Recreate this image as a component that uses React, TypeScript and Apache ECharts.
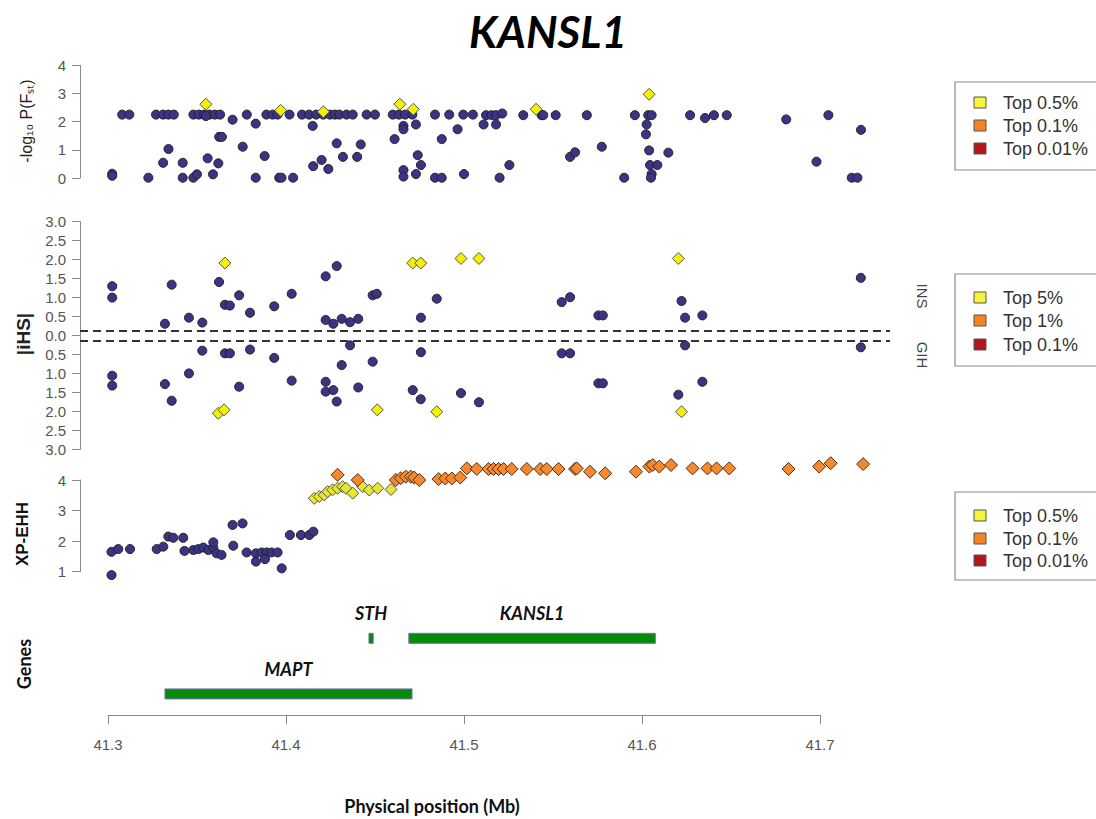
import React, { useEffect, useRef } from "react";
import * as echarts from "echarts";

// ---------- DATA ----------
// -log10 P(Fst): [position (Mb), value]
const fstOther: number[][] = [
  [41.3024,0.15],[41.3024,0.08],[41.308,2.25],[41.312,2.25],[41.3227,0.01],[41.327,2.25],[41.331,2.25],[41.334,2.25],[41.337,2.25],[41.334,1.03],[41.331,0.54],[41.342,0.54],[41.342,0.01],[41.348,2.25],[41.351,2.25],[41.354,2.25],[41.357,2.25],[41.360,2.25],[41.363,2.25],[41.355,2.2],[41.348,0.01],[41.350,0.13],[41.356,0.70],[41.359,0.13],[41.362,0.52],[41.3625,1.46],[41.364,1.46],[41.370,2.07],[41.3757,1.11],[41.378,2.25],[41.383,1.93],[41.383,0.01],[41.388,0.78],[41.389,2.25],[41.3925,2.25],[41.3953,2.25],[41.3962,0.01],[41.3975,0.01],[41.402,2.25],[41.404,0.01],[41.409,2.25],[41.413,2.25],[41.415,1.85],[41.4153,0.42],[41.420,0.64],[41.4238,0.32],[41.417,2.25],[41.421,2.25],[41.4247,2.25],[41.4275,2.25],[41.430,2.25],[41.434,2.25],[41.4375,2.25],[41.4285,1.23],[41.432,0.75],[41.440,0.75],[41.442,1.19],[41.4453,2.25],[41.450,2.25],[41.460,2.25],[41.4635,2.25],[41.467,2.25],[41.471,2.25],[41.461,1.38],[41.466,1.85],[41.466,1.73],[41.473,1.90],[41.474,0.81],[41.4758,0.46],[41.466,0.28],[41.466,0.05],[41.473,0.14],[41.4837,2.25],[41.4875,1.38],[41.4837,0.01],[41.4875,0.01],[41.4917,2.25],[41.4964,1.73],[41.500,0.14],[41.4996,2.25],[41.505,2.25],[41.5124,2.23],[41.5155,2.23],[41.518,2.23],[41.5215,2.29],[41.511,1.90],[41.518,1.90],[41.5333,2.23],[41.5436,2.23],[41.5445,2.23],[41.5515,2.23],[41.569,2.23],[41.596,2.23],[41.6035,2.23],[41.6054,2.23],[41.6026,1.90],[41.6022,1.55],[41.604,0.98],[41.6148,0.90],[41.6045,0.46],[41.6086,0.46],[41.6054,0.14],[41.605,0.01],[41.520,0.01],[41.5255,0.46],[41.5596,0.75],[41.5624,0.91],[41.5774,1.11],[41.590,0.01],[41.627,2.23],[41.6354,2.13],[41.6404,2.23],[41.6476,2.23],[41.681,2.08],[41.698,0.58],[41.7047,2.23],[41.723,1.71],[41.7178,0.01],[41.721,0.01]
];
const fstTop05: number[][] = [
  [41.355,2.62],[41.397,2.4],[41.421,2.35],[41.464,2.62],[41.4715,2.44],[41.5405,2.44],[41.604,2.97]
];

// |iHS| for INS (upper) and GIH (lower)
const insOther: number[][] = [
  [41.3024,1.30],[41.3024,1.00],[41.332,0.31],[41.3358,1.34],[41.3455,0.47],[41.353,0.34],[41.3624,1.41],[41.3657,0.81],[41.3685,0.79],[41.3737,1.06],[41.3798,0.60],[41.3934,0.77],[41.4032,1.10],[41.4223,1.56],[41.4285,1.83],[41.4223,0.41],[41.4266,0.31],[41.4313,0.44],[41.436,0.35],[41.4406,0.44],[41.4487,1.06],[41.451,1.10],[41.4758,0.47],[41.4847,0.97],[41.5549,0.88],[41.5596,1.01],[41.5755,0.53],[41.578,0.53],[41.6222,0.91],[41.6242,0.47],[41.6339,0.53],[41.7229,1.52]
];
const insTop5: number[][] = [
  [41.3657,1.91],[41.4712,1.91],[41.4757,1.91],[41.4983,2.03],[41.5084,2.03],[41.6204,2.03]
];
const gihOther: number[][] = [
  [41.3024,1.06],[41.3024,1.32],[41.332,1.28],[41.3358,1.72],[41.3455,1.00],[41.353,0.40],[41.3657,0.47],[41.3685,0.47],[41.3737,1.35],[41.3798,0.37],[41.3934,0.59],[41.4032,1.19],[41.436,0.26],[41.4313,0.78],[41.4223,1.22],[41.4223,1.48],[41.4266,1.44],[41.4285,1.74],[41.4406,1.37],[41.4487,0.69],[41.4758,0.44],[41.4712,1.44],[41.4757,1.68],[41.4983,1.52],[41.5084,1.76],[41.5549,0.47],[41.5596,0.47],[41.5755,1.26],[41.578,1.26],[41.6242,0.26],[41.6204,1.56],[41.6339,1.22],[41.7229,0.31]
];
const gihTop5: number[][] = [
  [41.362,2.05],[41.3652,1.96],[41.4513,1.96],[41.4847,2.01],[41.6222,2.01]
];
const ihsCutoff = 0.13;

// XP-EHH
const xpOther: number[][] = [
  [41.302,0.89],[41.302,1.65],[41.3058,1.74],[41.3124,1.74],[41.3274,1.74],[41.3311,1.82],[41.3339,2.15],[41.3367,2.11],[41.3423,2.11],[41.343,1.68],[41.348,1.71],[41.3508,1.74],[41.3536,1.79],[41.3564,1.71],[41.3592,1.79],[41.3592,1.96],[41.361,1.60],[41.3638,1.55],[41.37,2.53],[41.3756,2.58],[41.3704,1.85],[41.3779,1.63],[41.3831,1.60],[41.3863,1.63],[41.3891,1.63],[41.3919,1.63],[41.3953,1.63],[41.3831,1.33],[41.3882,1.41],[41.3976,1.11],[41.4022,2.20],[41.4084,2.20],[41.4131,2.20],[41.4154,2.31]
];
const xpTop05: number[][] = [
  [41.4159,3.40],[41.4187,3.46],[41.4215,3.51],[41.4234,3.62],[41.4262,3.68],[41.429,3.73],[41.4318,3.78],[41.4337,3.73],[41.4375,3.57],[41.4431,3.78],[41.4468,3.67],[41.4515,3.73],[41.459,3.69]
];
const xpTop01: number[][] = [
  [41.429,4.17],[41.4403,4.0],[41.4617,4.0],[41.4645,4.06],[41.4673,4.11],[41.4701,4.11],[41.472,4.08],[41.4749,4.0],[41.4857,4.03],[41.4895,4.05],[41.4932,4.05],[41.4979,4.08],[41.5016,4.38],[41.5072,4.36],[41.5138,4.36],[41.5166,4.36],[41.5194,4.36],[41.5222,4.36],[41.5268,4.36],[41.5353,4.36],[41.5428,4.36],[41.5465,4.36],[41.5531,4.36],[41.5624,4.36],[41.5633,4.38],[41.5708,4.27],[41.5793,4.22],[41.5966,4.27],[41.6041,4.44],[41.606,4.49],[41.6097,4.44],[41.6163,4.49],[41.6284,4.38],[41.6368,4.38],[41.6419,4.38],[41.649,4.38],[41.6823,4.36],[41.6995,4.44],[41.706,4.55],[41.7242,4.52]
];

// Genes
const geneNames = ["STH", "KANSL1", "MAPT"];
const geneStart = [41.4466, 41.469, 41.332];
const geneEnd = [41.449, 41.6075, 41.4708];
const geneRow = [2.0, 2.0, 0.55];

// Axes / legends
const xTicksMin = 41.3;
const xTicksMax = 41.7;
const fstLegend = ["Top 0.5%", "Top 0.1%", "Top 0.01%"];
const ihsLegend = ["Top 5%", "Top 1%", "Top 0.1%"];
const xpLegend = ["Top 0.5%", "Top 0.1%", "Top 0.01%"];
const legendColors = ["#f4f43a", "#f5831f", "#b3161c"];

// ---------- STYLE ----------
const SANS = "'Liberation Sans', Arial, sans-serif";
const CAL = "Lato, 'Open Sans', sans-serif";
const NAVY = "#3b3486";
const YEL = "#f2f200";
const ORG = "#f7882b";
const AXIS = "#8a8a8a";
const plotMin = 41.2843;
const plotMax = 41.7393;

function scatter(idx: number, data: number[][], symbol: string, size: number, color: string, border: string, z: number, extra: any = {}) {
  return {
    type: "scatter",
    xAxisIndex: idx,
    yAxisIndex: idx,
    data,
    symbol,
    symbolSize: size,
    clip: false,
    silent: true,
    z,
    itemStyle: { color, borderColor: border, borderWidth: 1, opacity: 1 },
    ...extra,
  };
}

function yAxis(idx: number, min: number, max: number, interval: number, fmt?: (v: number) => string) {
  return {
    type: "value",
    gridIndex: idx,
    min,
    max,
    interval,
    axisLine: { show: true, lineStyle: { color: AXIS, width: 1 } },
    axisTick: { show: true, length: 8, lineStyle: { color: AXIS } },
    axisLabel: { fontSize: 15, color: "#555", fontFamily: SANS, margin: 14, formatter: fmt },
    splitLine: { show: false },
  };
}

function legendBox(x: number, y: number, h: number, labels: string[], rowY: number[]) {
  const children: any[] = [
    { type: "rect", shape: { x, y, width: 170, height: h }, style: { fill: "#fff", stroke: "#8c8c8c", lineWidth: 1.2 } },
  ];
  labels.forEach((t, i) => {
    children.push({ type: "rect", shape: { x: x + 19, y: rowY[i] - 6, width: 12, height: 11 }, style: { fill: legendColors[i], stroke: "#555", lineWidth: 1 } });
    children.push({ type: "text", x: x + 48, y: rowY[i], style: { text: t, font: `18px ${SANS}`, fill: "#333", textVerticalAlign: "middle" } });
  });
  return { type: "group", children };
}

export default function App() {
  const ref = useRef<HTMLDivElement>(null);
  useEffect(() => {
    if (!ref.current) return;
    const chart = echarts.init(ref.current, undefined, { renderer: "svg" });
    const gihOtherNeg = gihOther.map((d) => [d[0], -d[1]]);
    const gihTopNeg = gihTop5.map((d) => [d[0], -d[1]]);
    const genesData = geneNames.map((n, i) => [geneStart[i], geneEnd[i], geneRow[i], n]);

    const hiddenX = (g: number) => ({ type: "value", gridIndex: g, min: plotMin, max: plotMax, show: false });

    chart.setOption({
      animation: false,
      backgroundColor: "#fff",
      grid: [
        { left: 80, top: 65.3, width: 810, height: 112.7 },
        { left: 80, top: 221.7, width: 810, height: 227.6 },
        { left: 80, top: 480, width: 810, height: 91.7 },
        { left: 108, top: 600, width: 712, height: 115 },
      ],
      xAxis: [
        hiddenX(0),
        hiddenX(1),
        hiddenX(2),
        {
          type: "value",
          gridIndex: 3,
          min: xTicksMin,
          max: xTicksMax,
          interval: 0.1,
          axisLine: { show: true, lineStyle: { color: AXIS } },
          axisTick: { show: true, length: 9, lineStyle: { color: AXIS } },
          axisLabel: { fontSize: 15, color: "#555", fontFamily: SANS, margin: 22, formatter: (v: number) => v.toFixed(1) },
          splitLine: { show: false },
        },
      ],
      yAxis: [
        yAxis(0, 0, 4, 1),
        yAxis(1, -3, 3, 0.5, (v: number) => Math.abs(v).toFixed(1)),
        yAxis(2, 1, 4, 1),
        { type: "value", gridIndex: 3, min: 0, max: 3, show: false },
      ],
      series: [
        scatter(0, fstOther, "circle", 9, NAVY, "#222", 2),
        scatter(0, fstTop05, "diamond", 12, YEL, "#555", 3),
        scatter(1, insOther, "circle", 9, NAVY, "#222", 2, {
          markLine: {
            silent: true,
            symbol: ["none", "none"],
            label: { show: false },
            lineStyle: { type: [8, 5], color: "#333", width: 2.2 },
            data: [{ yAxis: ihsCutoff }, { yAxis: -ihsCutoff }],
          },
        }),
        scatter(1, insTop5, "diamond", 12, YEL, "#555", 3),
        scatter(1, gihOtherNeg, "circle", 9, NAVY, "#222", 2),
        scatter(1, gihTopNeg, "diamond", 12, YEL, "#555", 3),
        scatter(2, xpOther, "circle", 9, NAVY, "#222", 2),
        scatter(2, xpTop05, "diamond", 12, "#e6e634", "#555", 3),
        scatter(2, xpTop01, "diamond", 13, ORG, "#4a3020", 4),
        {
          type: "custom",
          xAxisIndex: 3,
          yAxisIndex: 3,
          data: genesData,
          silent: true,
          clip: false,
          renderItem: (params: any, api: any) => {
            const s = api.coord([api.value(0), api.value(2)]);
            const e = api.coord([api.value(1), api.value(2)]);
            const name = genesData[params.dataIndex][3] as string;
            return {
              type: "group",
              children: [
                { type: "rect", shape: { x: s[0], y: s[1] - 5, width: e[0] - s[0], height: 10 }, style: { fill: "#078a07", stroke: "#7a6cc4", lineWidth: 1 } },
                { type: "text", x: (s[0] + e[0]) / 2, y: s[1] - 25, style: { text: name, font: `italic bold 18px ${CAL}`, fill: "#111", textAlign: "center", textVerticalAlign: "middle" } },
              ],
            };
          },
        },
      ],
      graphic: [
        { type: "text", x: 548, y: 31, style: { text: "KANSL1", font: `italic bold 44px ${CAL}`, fill: "#000", textAlign: "center", textVerticalAlign: "middle" } },
        { type: "text", x: 26, y: 121, rotation: Math.PI / 2, style: { text: "-log₁₀ P(Fₛₜ)", font: `16px ${SANS}`, fill: "#222", textAlign: "center", textVerticalAlign: "middle" } },
        { type: "text", x: 23, y: 334, rotation: Math.PI / 2, style: { text: "|iHS|", font: `bold 19px ${SANS}`, fill: "#222", textAlign: "center", textVerticalAlign: "middle" } },
        { type: "text", x: 22, y: 534, rotation: Math.PI / 2, style: { text: "XP-EHH", font: `bold 17px ${SANS}`, fill: "#111", textAlign: "center", textVerticalAlign: "middle" } },
        { type: "text", x: 24, y: 664, rotation: Math.PI / 2, style: { text: "Genes", font: `bold 18px ${CAL}`, fill: "#111", textAlign: "center", textVerticalAlign: "middle" } },
        { type: "text", x: 432, y: 806, style: { text: "Physical position (Mb)", font: `bold 18px ${CAL}`, fill: "#111", textAlign: "center", textVerticalAlign: "middle" } },
        { type: "text", x: 922, y: 296, rotation: -Math.PI / 2, style: { text: "INS", font: `15px ${SANS}`, fill: "#444", textAlign: "center", textVerticalAlign: "middle" } },
        { type: "text", x: 922, y: 355, rotation: -Math.PI / 2, style: { text: "GIH", font: `15px ${SANS}`, fill: "#444", textAlign: "center", textVerticalAlign: "middle" } },
        legendBox(955, 82, 88, fstLegend, [103, 126, 149]),
        legendBox(955, 274, 92, ihsLegend, [298, 321, 345]),
        legendBox(955, 492, 88, xpLegend, [516, 539, 561]),
      ],
    });
    return () => chart.dispose();
  }, []);
  return <div ref={ref} style={{ position: "fixed", left: 0, top: 0, width: 1096, height: 819, background: "#fff" }} />;
}
